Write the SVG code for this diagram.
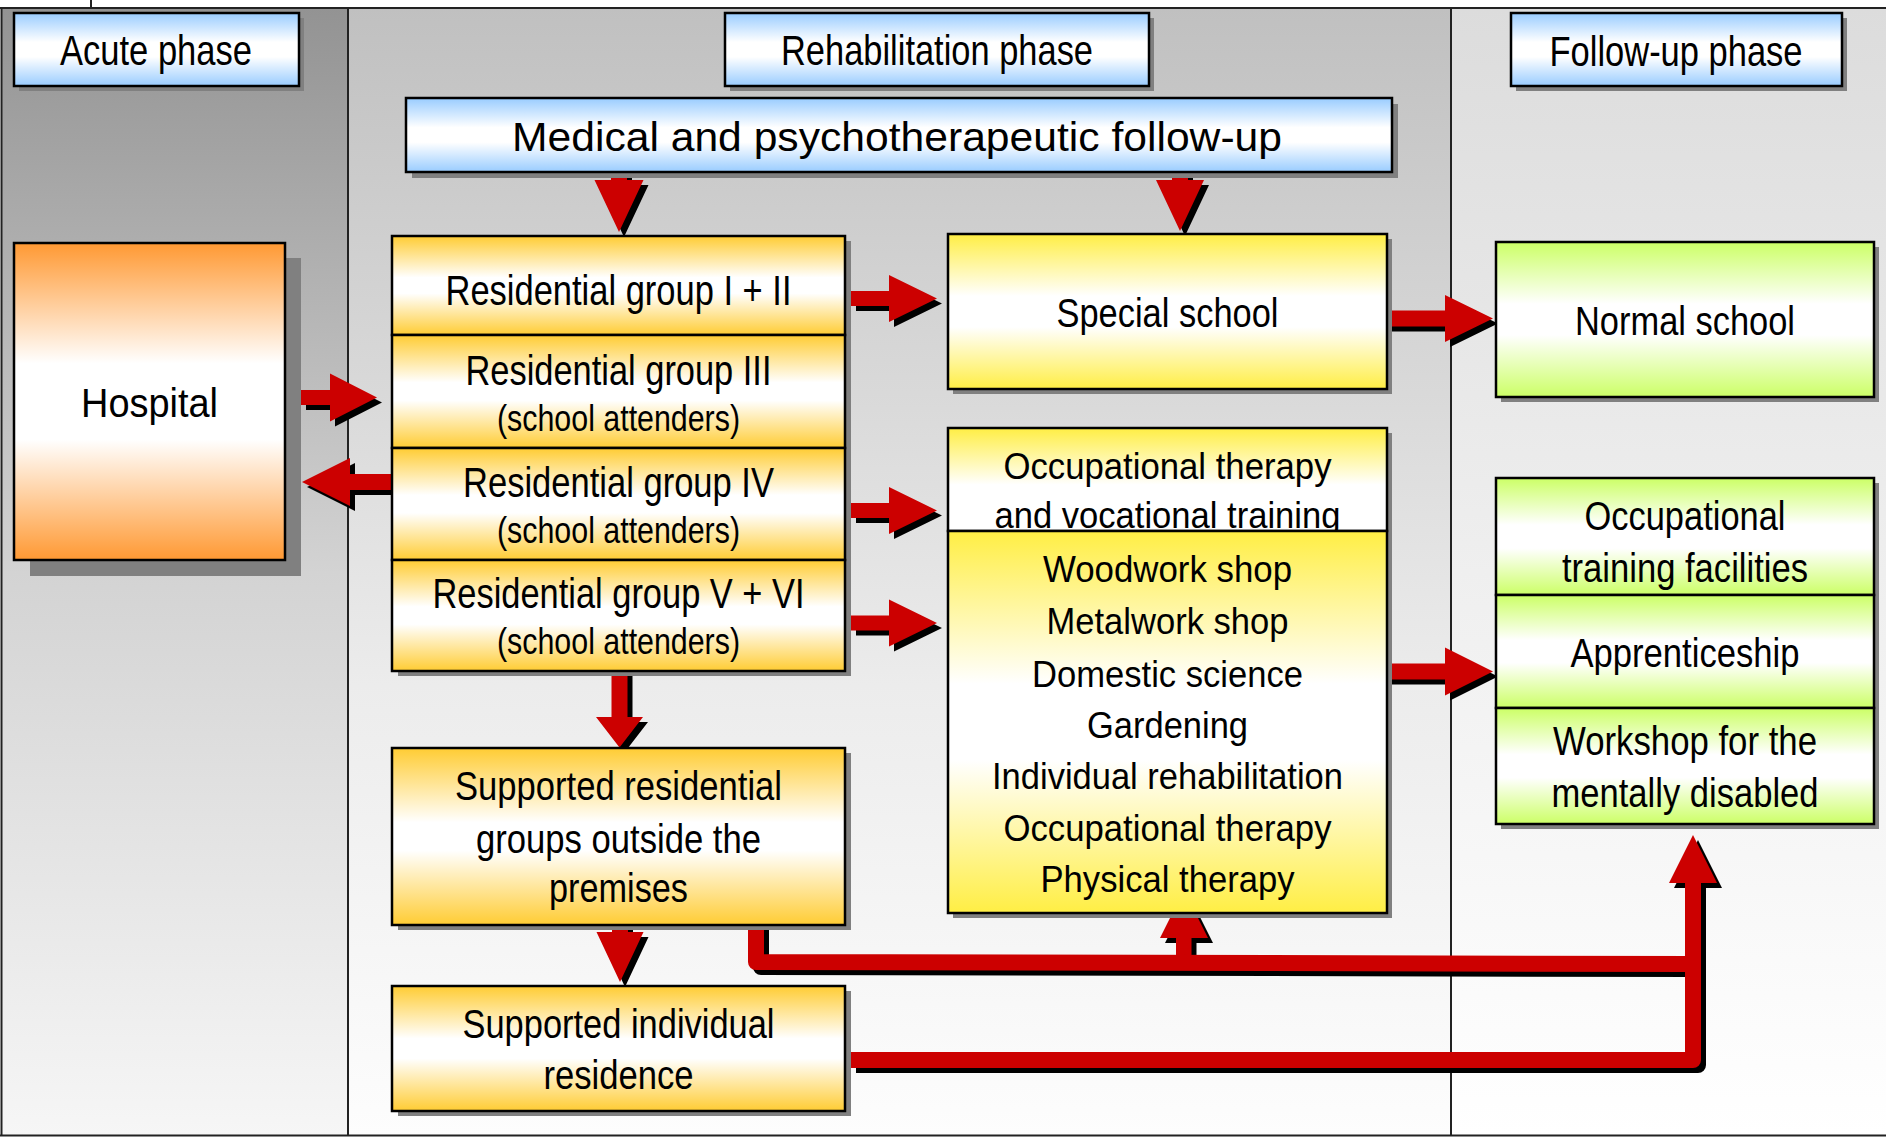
<svg xmlns="http://www.w3.org/2000/svg" width="1886" height="1137" viewBox="0 0 1886 1137">
<defs>
<linearGradient id="gLeft" x1="0" y1="0" x2="0" y2="1"><stop offset="0" stop-color="#939393"/><stop offset="0.5" stop-color="#d3d3d3"/><stop offset="1" stop-color="#f6f6f6"/></linearGradient>
<linearGradient id="gMid" x1="0" y1="0" x2="0" y2="1"><stop offset="0" stop-color="#c0c0c0"/><stop offset="0.6" stop-color="#ececec"/><stop offset="1" stop-color="#fdfdfd"/></linearGradient>
<linearGradient id="gRight" x1="0" y1="0" x2="0" y2="1"><stop offset="0" stop-color="#dcdcdc"/><stop offset="0.5" stop-color="#efefef"/><stop offset="1" stop-color="#ffffff"/></linearGradient>
<linearGradient id="gBlue" x1="0" y1="0" x2="0" y2="1"><stop offset="0" stop-color="#99ccff"/><stop offset="0.4" stop-color="#ffffff"/><stop offset="0.6" stop-color="#ffffff"/><stop offset="1" stop-color="#99ccff"/></linearGradient>
<linearGradient id="gOrange" x1="0" y1="0" x2="0" y2="1"><stop offset="0" stop-color="#ff9933"/><stop offset="0.38" stop-color="#ffffff"/><stop offset="0.62" stop-color="#ffffff"/><stop offset="1" stop-color="#ff9933"/></linearGradient>
<linearGradient id="gGold" x1="0" y1="0" x2="0" y2="1"><stop offset="0" stop-color="#ffcc33"/><stop offset="0.42" stop-color="#ffffff"/><stop offset="0.58" stop-color="#ffffff"/><stop offset="1" stop-color="#ffcc33"/></linearGradient>
<linearGradient id="gYellow" x1="0" y1="0" x2="0" y2="1"><stop offset="0" stop-color="#ffee44"/><stop offset="0.4" stop-color="#ffffff"/><stop offset="0.6" stop-color="#ffffff"/><stop offset="1" stop-color="#ffee44"/></linearGradient>
<linearGradient id="gYellowTop" x1="0" y1="0" x2="0" y2="1"><stop offset="0" stop-color="#ffee44"/><stop offset="0.55" stop-color="#ffffff"/><stop offset="1" stop-color="#ffffff"/></linearGradient>
<linearGradient id="gGreen" x1="0" y1="0" x2="0" y2="1"><stop offset="0" stop-color="#ccff66"/><stop offset="0.4" stop-color="#ffffff"/><stop offset="0.6" stop-color="#ffffff"/><stop offset="1" stop-color="#ccff66"/></linearGradient>
</defs>
<style>
.box{stroke:#000;stroke-width:2.5}
.shd{fill:#808080}
.blue{fill:url(#gBlue)}
.gold{fill:url(#gGold)}
.yel{fill:url(#gYellow)}
.grn{fill:url(#gGreen)}
.frame{stroke:#222;stroke-width:2;fill:none}
text{fill:#000;text-anchor:middle}
.n{font-family:"Liberation Sans Narrow","Liberation Sans",Arial,sans-serif}
.t{font-family:"Liberation Sans",Arial,sans-serif}
</style>
<rect x="0" y="0" width="1886" height="1137" fill="#ffffff"/>
<g id="columns">
<rect x="1" y="8" width="347" height="1128" fill="url(#gLeft)"/>
<rect x="348" y="8" width="1103" height="1128" fill="url(#gMid)"/>
<rect x="1451" y="8" width="435" height="1128" fill="url(#gRight)"/>
<path class="frame" d="M0,8 H1886 M1.5,8 V1136 M348,8 V1136 M1451,8 V1136 M0,1135.5 H1886 M91,0 V8"/>
</g>
<g id="connectors">
<use href="#cshapes" fill="#000" stroke="#000" transform="translate(5,5)"/>
<g fill="#cc0000" stroke="#cc0000">
<g id="cshapes">
<polygon stroke="none" points="301,390 330,390 330,373.5 377,397.5 330,421.5 330,405 301,405"/>
<polygon stroke="none" points="392,474 350,474 350,458 302,482 350,506 350,490 392,490"/>
<polygon stroke="none" points="851,291 889,291 889,275 937,298.5 889,322 889,306 851,306"/>
<polygon stroke="none" points="851,503 889,503 889,487 937,510.5 889,534 889,518 851,518"/>
<polygon stroke="none" points="851,615.5 889,615.5 889,599.5 937,623 889,646.5 889,630.5 851,630.5"/>
<polygon stroke="none" points="1387,310.5 1445,310.5 1445,295 1493,318.5 1445,342 1445,326.5 1387,326.5"/>
<polygon stroke="none" points="1387,663.5 1445,663.5 1445,647.5 1493,671.5 1445,695.5 1445,679.5 1387,679.5"/>
<polygon stroke="none" points="611,172 627,172 627,180 643.5,180 619,232 594.5,180 611,180"/>
<polygon stroke="none" points="1172,172 1188,172 1188,180 1204,180 1180,231 1156,180 1172,180"/>
<polygon stroke="none" points="611.5,671 627.5,671 627.5,717 643,717 619.5,747.5 596,717 611.5,717"/>
<polygon stroke="none" points="612,925 628,925 628,932 643.5,932 620,982 596.5,932 612,932"/>
<polygon stroke="none" points="1184,890 1208,938 1191.5,938 1191.5,962 1176,962 1176,938 1160,938"/>
<polygon stroke="none" points="1693,835 1717,883 1669,883"/>
<path fill="none" stroke-width="16" stroke-linejoin="round" d="M756,925 V962 L1693,964"/>
<path fill="none" stroke-width="16" stroke-linejoin="round" d="M851,1060 H1693 V880"/>
</g>
</g>
</g>
<g id="acute-phase">
<rect class="shd" x="19" y="18" width="285" height="73"/>
<rect class="box blue" x="14" y="13" width="285" height="73"/>
<text class="n" x="156" y="65" font-size="42" textLength="192" lengthAdjust="spacingAndGlyphs">Acute phase</text>
</g>
<g id="rehabilitation-phase">
<rect class="shd" x="730" y="18" width="424" height="73"/>
<rect class="box blue" x="725" y="13" width="424" height="73"/>
<text class="n" x="937" y="65" font-size="42" textLength="312" lengthAdjust="spacingAndGlyphs">Rehabilitation phase</text>
</g>
<g id="follow-up-phase">
<rect class="shd" x="1516" y="18" width="331" height="73"/>
<rect class="box blue" x="1511" y="13" width="331" height="73"/>
<text class="n" x="1676" y="65.5" font-size="42" textLength="253" lengthAdjust="spacingAndGlyphs">Follow-up phase</text>
</g>
<g id="medical-follow-up">
<rect class="shd" x="412" y="104" width="986" height="74"/>
<rect class="box blue" x="406" y="98" width="986" height="74"/>
<text class="t" x="897" y="151" font-size="40" textLength="770" lengthAdjust="spacingAndGlyphs">Medical and psychotherapeutic follow-up</text>
</g>
<g id="hospital">
<rect class="shd" x="30" y="258" width="271" height="318"/>
<rect class="box" fill="url(#gOrange)" x="14" y="243" width="271" height="317"/>
<text class="t" x="149.5" y="417" font-size="40" textLength="137" lengthAdjust="spacingAndGlyphs">Hospital</text>
</g>
<g id="residential-groups">
<rect class="shd" x="398" y="241" width="453" height="435"/>
<rect class="box gold" x="392" y="236" width="453" height="99"/>
<rect class="box gold" x="392" y="335" width="453" height="113"/>
<rect class="box gold" x="392" y="448" width="453" height="112"/>
<rect class="box gold" x="392" y="560" width="453" height="111"/>
<text class="n" x="618.5" y="305" font-size="42" textLength="346" lengthAdjust="spacingAndGlyphs">Residential group I + II</text>
<text class="n" x="618.5" y="385" font-size="42" textLength="306" lengthAdjust="spacingAndGlyphs">Residential group III</text>
<text class="n" x="618.5" y="431" font-size="36" textLength="243" lengthAdjust="spacingAndGlyphs">(school attenders)</text>
<text class="n" x="618.5" y="497" font-size="42" textLength="311" lengthAdjust="spacingAndGlyphs">Residential group IV</text>
<text class="n" x="618.5" y="543" font-size="36" textLength="243" lengthAdjust="spacingAndGlyphs">(school attenders)</text>
<text class="n" x="618.5" y="608" font-size="42" textLength="372" lengthAdjust="spacingAndGlyphs">Residential group V + VI</text>
<text class="n" x="618.5" y="654" font-size="36" textLength="243" lengthAdjust="spacingAndGlyphs">(school attenders)</text>
</g>
<g id="special-school">
<rect class="shd" x="953" y="239" width="439" height="155"/>
<rect class="box yel" x="948" y="234" width="439" height="155"/>
<text class="t" x="1167.5" y="327" font-size="40" textLength="222" lengthAdjust="spacingAndGlyphs">Special school</text>
</g>
<g id="occupational-therapy">
<rect class="shd" x="953" y="433" width="439" height="485"/>
<rect class="box" fill="url(#gYellowTop)" x="948" y="428" width="439" height="103"/>
<text class="t" x="1167.5" y="479" font-size="37" textLength="328" lengthAdjust="spacingAndGlyphs">Occupational therapy</text>
<text class="t" x="1167.5" y="528" font-size="37" textLength="346" lengthAdjust="spacingAndGlyphs">and vocational training</text>
<rect class="box yel" x="948" y="531" width="439" height="382"/>
<text class="t" x="1167.5" y="581.6" font-size="37" textLength="249" lengthAdjust="spacingAndGlyphs">Woodwork shop</text>
<text class="t" x="1167.5" y="634.3" font-size="37" textLength="242" lengthAdjust="spacingAndGlyphs">Metalwork shop</text>
<text class="t" x="1167.5" y="686.5" font-size="37" textLength="271" lengthAdjust="spacingAndGlyphs">Domestic science</text>
<text class="t" x="1167.5" y="737.9" font-size="37" textLength="161" lengthAdjust="spacingAndGlyphs">Gardening</text>
<text class="t" x="1167.5" y="789.2" font-size="37" textLength="351" lengthAdjust="spacingAndGlyphs">Individual rehabilitation</text>
<text class="t" x="1167.5" y="840.5" font-size="37" textLength="328" lengthAdjust="spacingAndGlyphs">Occupational therapy</text>
<text class="t" x="1167.5" y="891.9" font-size="37" textLength="254" lengthAdjust="spacingAndGlyphs">Physical therapy</text>
</g>
<g id="normal-school">
<rect class="shd" x="1501" y="247" width="378" height="155"/>
<rect class="box grn" x="1496" y="242" width="378" height="155"/>
<text class="n" x="1685" y="335" font-size="40" textLength="220" lengthAdjust="spacingAndGlyphs">Normal school</text>
</g>
<g id="follow-up-facilities">
<rect class="shd" x="1501" y="483" width="378" height="346"/>
<rect class="box grn" x="1496" y="478" width="378" height="117"/>
<rect class="box grn" x="1496" y="595" width="378" height="113"/>
<rect class="box grn" x="1496" y="708" width="378" height="116"/>
<text class="n" x="1685" y="530" font-size="41" textLength="201" lengthAdjust="spacingAndGlyphs">Occupational</text>
<text class="n" x="1685" y="581.7" font-size="41" textLength="246" lengthAdjust="spacingAndGlyphs">training facilities</text>
<text class="n" x="1685" y="666.7" font-size="41" textLength="229" lengthAdjust="spacingAndGlyphs">Apprenticeship</text>
<text class="n" x="1685" y="755" font-size="41" textLength="264" lengthAdjust="spacingAndGlyphs">Workshop for the</text>
<text class="n" x="1685" y="806.7" font-size="41" textLength="267" lengthAdjust="spacingAndGlyphs">mentally disabled</text>
</g>
<g id="supported-residential-groups">
<rect class="shd" x="398" y="753" width="453" height="177"/>
<rect class="box gold" x="392" y="748" width="453" height="177"/>
<text class="n" x="618.5" y="800" font-size="40" textLength="327" lengthAdjust="spacingAndGlyphs">Supported residential</text>
<text class="n" x="618.5" y="852.7" font-size="40" textLength="285" lengthAdjust="spacingAndGlyphs">groups outside the</text>
<text class="n" x="618.5" y="901.7" font-size="40" textLength="139" lengthAdjust="spacingAndGlyphs">premises</text>
</g>
<g id="supported-individual-residence">
<rect class="shd" x="398" y="991" width="453" height="125"/>
<rect class="box gold" x="392" y="986" width="453" height="125"/>
<text class="n" x="618.5" y="1038.3" font-size="40" textLength="312" lengthAdjust="spacingAndGlyphs">Supported individual</text>
<text class="n" x="618.5" y="1089" font-size="40" textLength="150" lengthAdjust="spacingAndGlyphs">residence</text>
</g>
</svg>
